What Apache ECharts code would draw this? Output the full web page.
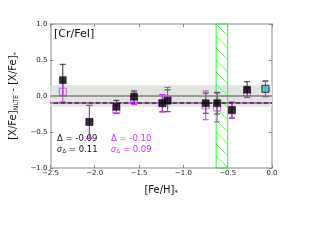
<!DOCTYPE html>
<html><head><meta charset="utf-8">
<script src="https://cdn.jsdelivr.net/npm/echarts@6/dist/echarts.min.js"></script>
<style>html,body{margin:0;padding:0;background:#fff}#c{width:320px;height:240px}</style>
</head><body><div id="c"></div>
<script>
const feH      = [-2.36, -2.06, -1.756, -1.556, -1.237, -1.178, -0.748, -0.619, -0.452, -0.281, -0.074];
const dLTE     = [0.22, -0.36, -0.15, -0.01, -0.10, -0.065, -0.10, -0.10, -0.195, 0.088, 0.10];
const errLTE   = [0.22, 0.23, 0.09, 0.08, 0.12, 0.15, 0.14, 0.15, 0.11, 0.11, 0.11];
const dNLTE    = [0.06, -0.36, -0.185, -0.04, -0.10, -0.05, -0.13, -0.16, -0.20, 0.05, 0.10];
const errNLTE  = [0.14, 0.23, 0.06, 0.08, 0.12, 0.17, 0.20, 0.20, 0.11, 0.07, 0.10];
const cyanIdx  = [10];
const meanLTE = -0.09, sigLTE = 0.11, meanNLTE = -0.10, sigNLTE = 0.09;
const bandY = [-0.15, 0.15];
const bandX = [-0.63, -0.50];
const xTicks = [-2.5, 0.0, 0.5];
const yTicks = [-1.0, 1.0, 0.5];

const MAG = '#cc33ee';
const FONT = 'DejaVu Sans';

function hatch(){
  const c = document.createElement('canvas'); c.width = 12; c.height = 12;
  const g = c.getContext('2d');
  g.strokeStyle = '#77ee77'; g.lineWidth = 1;
  g.beginPath(); g.moveTo(0,0); g.lineTo(12,12); g.moveTo(-6,6); g.lineTo(6,18); g.moveTo(6,-6); g.lineTo(18,6); g.stroke();
  return c;
}

function errSeries(xs, ys, es, color, z){
  return {
    type:'custom', z:z, silent:true,
    data: xs.map((x,i)=>[x, ys[i], es[i]]),
    renderItem:(p, api)=>{
      const x = api.value(0), y = api.value(1), e = api.value(2);
      const a = api.coord([x, y+e]), b = api.coord([x, y-e]);
      const cw = 3;
      return {type:'group', children:[
        {type:'line', shape:{x1:a[0],y1:a[1],x2:b[0],y2:b[1]}, style:{stroke:color, lineWidth:1}},
        {type:'line', shape:{x1:a[0]-cw,y1:a[1],x2:a[0]+cw,y2:a[1]}, style:{stroke:color, lineWidth:1}},
        {type:'line', shape:{x1:b[0]-cw,y1:b[1],x2:b[0]+cw,y2:b[1]}, style:{stroke:color, lineWidth:1}}
      ]};
    }
  };
}

const axisCol = '#b0b0b0';
const tickCol = '#888';
const chart = echarts.init(document.getElementById('c'), null, {renderer:'canvas'});
chart.setOption({
  animation:false,
  grid:{left:47, right:48, top:24, bottom:72},
  xAxis:[{
    type:'value', min:xTicks[0], max:xTicks[1], interval:xTicks[2],
    axisLine:{onZero:false, lineStyle:{color:axisCol, width:1.5}},
    axisTick:{inside:true, length:3, lineStyle:{color:tickCol}},
    axisLabel:{fontSize:7, color:'#222', margin:2, fontFamily:FONT,
      formatter:v=>v.toFixed(1).replace('-','\u2212')},
    splitLine:{show:false},
    name:'[Fe/H]{s|*}', nameLocation:'middle', nameGap:16,
    nameTextStyle:{fontSize:10, color:'#111', fontFamily:FONT, rich:{s:{fontSize:7, verticalAlign:'bottom', padding:[6,0,0,0]}}}
  },{
    type:'value', position:'top', min:xTicks[0], max:xTicks[1], interval:xTicks[2],
    axisLine:{onZero:false, lineStyle:{color:axisCol, width:1.5}},
    axisTick:{inside:true, length:3, lineStyle:{color:tickCol}},
    axisLabel:{show:false}, splitLine:{show:false}
  }],
  yAxis:[{
    type:'value', min:yTicks[0], max:yTicks[1], interval:yTicks[2],
    axisLine:{show:true, onZero:false, lineStyle:{color:axisCol, width:1.5}},
    axisTick:{show:true, inside:true, length:3, lineStyle:{color:tickCol}},
    axisLabel:{fontSize:7, color:'#222', margin:3, fontFamily:FONT,
      formatter:v=>v.toFixed(1).replace('-','\u2212')},
    splitLine:{show:false},
    name:'[X/Fe]{s|NLTE} - [X/Fe]{s|*}', nameLocation:'middle', nameGap:21, nameRotate:90,
    nameTextStyle:{fontSize:10, color:'#111', fontFamily:FONT, rich:{s:{fontSize:6.5, padding:[6,0,0,0]}}}
  },{
    type:'value', position:'right', min:yTicks[0], max:yTicks[1], interval:yTicks[2],
    axisLine:{show:true, onZero:false, lineStyle:{color:axisCol, width:1.5}},
    axisTick:{show:true, inside:true, length:3, lineStyle:{color:tickCol}},
    axisLabel:{show:false}, splitLine:{show:false}
  }],
  series:[
    {type:'line', data:[], z:1, silent:true,
      markArea:{silent:true, itemStyle:{color:'#e2e4df'}, data:[[{yAxis:bandY[0]},{yAxis:bandY[1]}]]},
      markLine:{silent:true, symbol:'none', label:{show:false}, data:[
        {yAxis:0, lineStyle:{color:'#808080', width:1.5, type:'solid'}},
        {yAxis:meanNLTE, lineStyle:{color:MAG, width:1.5, type:[4,3]}},
        {yAxis:meanLTE, lineStyle:{color:'#222', width:1.5, type:[4,3], dashOffset:3.5}}
      ]}},
    {type:'line', data:[], z:2, silent:true,
      markArea:{silent:true, itemStyle:{color:{image:hatch(), repeat:'repeat'}, borderColor:'#33ee33', borderWidth:1},
        data:[[{xAxis:bandX[0]},{xAxis:bandX[1]}]]}},
    errSeries(feH, dLTE, errLTE, '#333', 3),
    errSeries(feH, dNLTE, errNLTE, MAG, 4),
    {type:'scatter', z:5, symbol:'rect', symbolSize:7, silent:true,
      itemStyle:{color:'rgba(255,255,255,0)', borderColor:MAG, borderWidth:1},
      data:feH.map((x,i)=>[x, dNLTE[i]])},
    {type:'scatter', z:6, symbol:'rect', symbolSize:7, silent:true,
      itemStyle:{color:'#000', borderColor:'#000', borderWidth:0.5},
      data:feH.map((x,i)=>cyanIdx.includes(i)?null:[x, dLTE[i]]).filter(d=>d)},
    {type:'scatter', z:6, symbol:'rect', symbolSize:7, silent:true,
      itemStyle:{color:'#40c0c8', borderColor:'#000', borderWidth:0.8},
      data:cyanIdx.map(i=>[feH[i], dLTE[i]])}
  ],
  graphic:[
    {type:'text', left:54, top:29, style:{text:'[Cr/FeI]', fontSize:11, fill:'#111', fontFamily:FONT}},
    {type:'text', left:57, top:134, style:{text:'\u0394 = -' + Math.abs(meanLTE).toFixed(2), fontSize:8.5, fill:'#111', fontFamily:FONT}},
    {type:'text', left:57, top:145, style:{text:'{i|\u03c3}{s|\u0394} = ' + sigLTE.toFixed(2), fontSize:8.5, fill:'#111', fontFamily:FONT,
      rich:{i:{fontStyle:'italic', fontSize:8.5, fill:'#111'}, s:{fontSize:6, fill:'#111', padding:[4,0,0,0]}}}},
    {type:'text', left:111, top:134, style:{text:'\u0394 = -' + Math.abs(meanNLTE).toFixed(2), fontSize:8.5, fill:MAG, fontFamily:FONT}},
    {type:'text', left:111, top:145, style:{text:'{i|\u03c3}{s|\u0394} = ' + sigNLTE.toFixed(2), fontSize:8.5, fill:MAG, fontFamily:FONT,
      rich:{i:{fontStyle:'italic', fontSize:8.5, fill:MAG}, s:{fontSize:6, fill:MAG, padding:[4,0,0,0]}}}}
  ]
});
</script></body></html>
